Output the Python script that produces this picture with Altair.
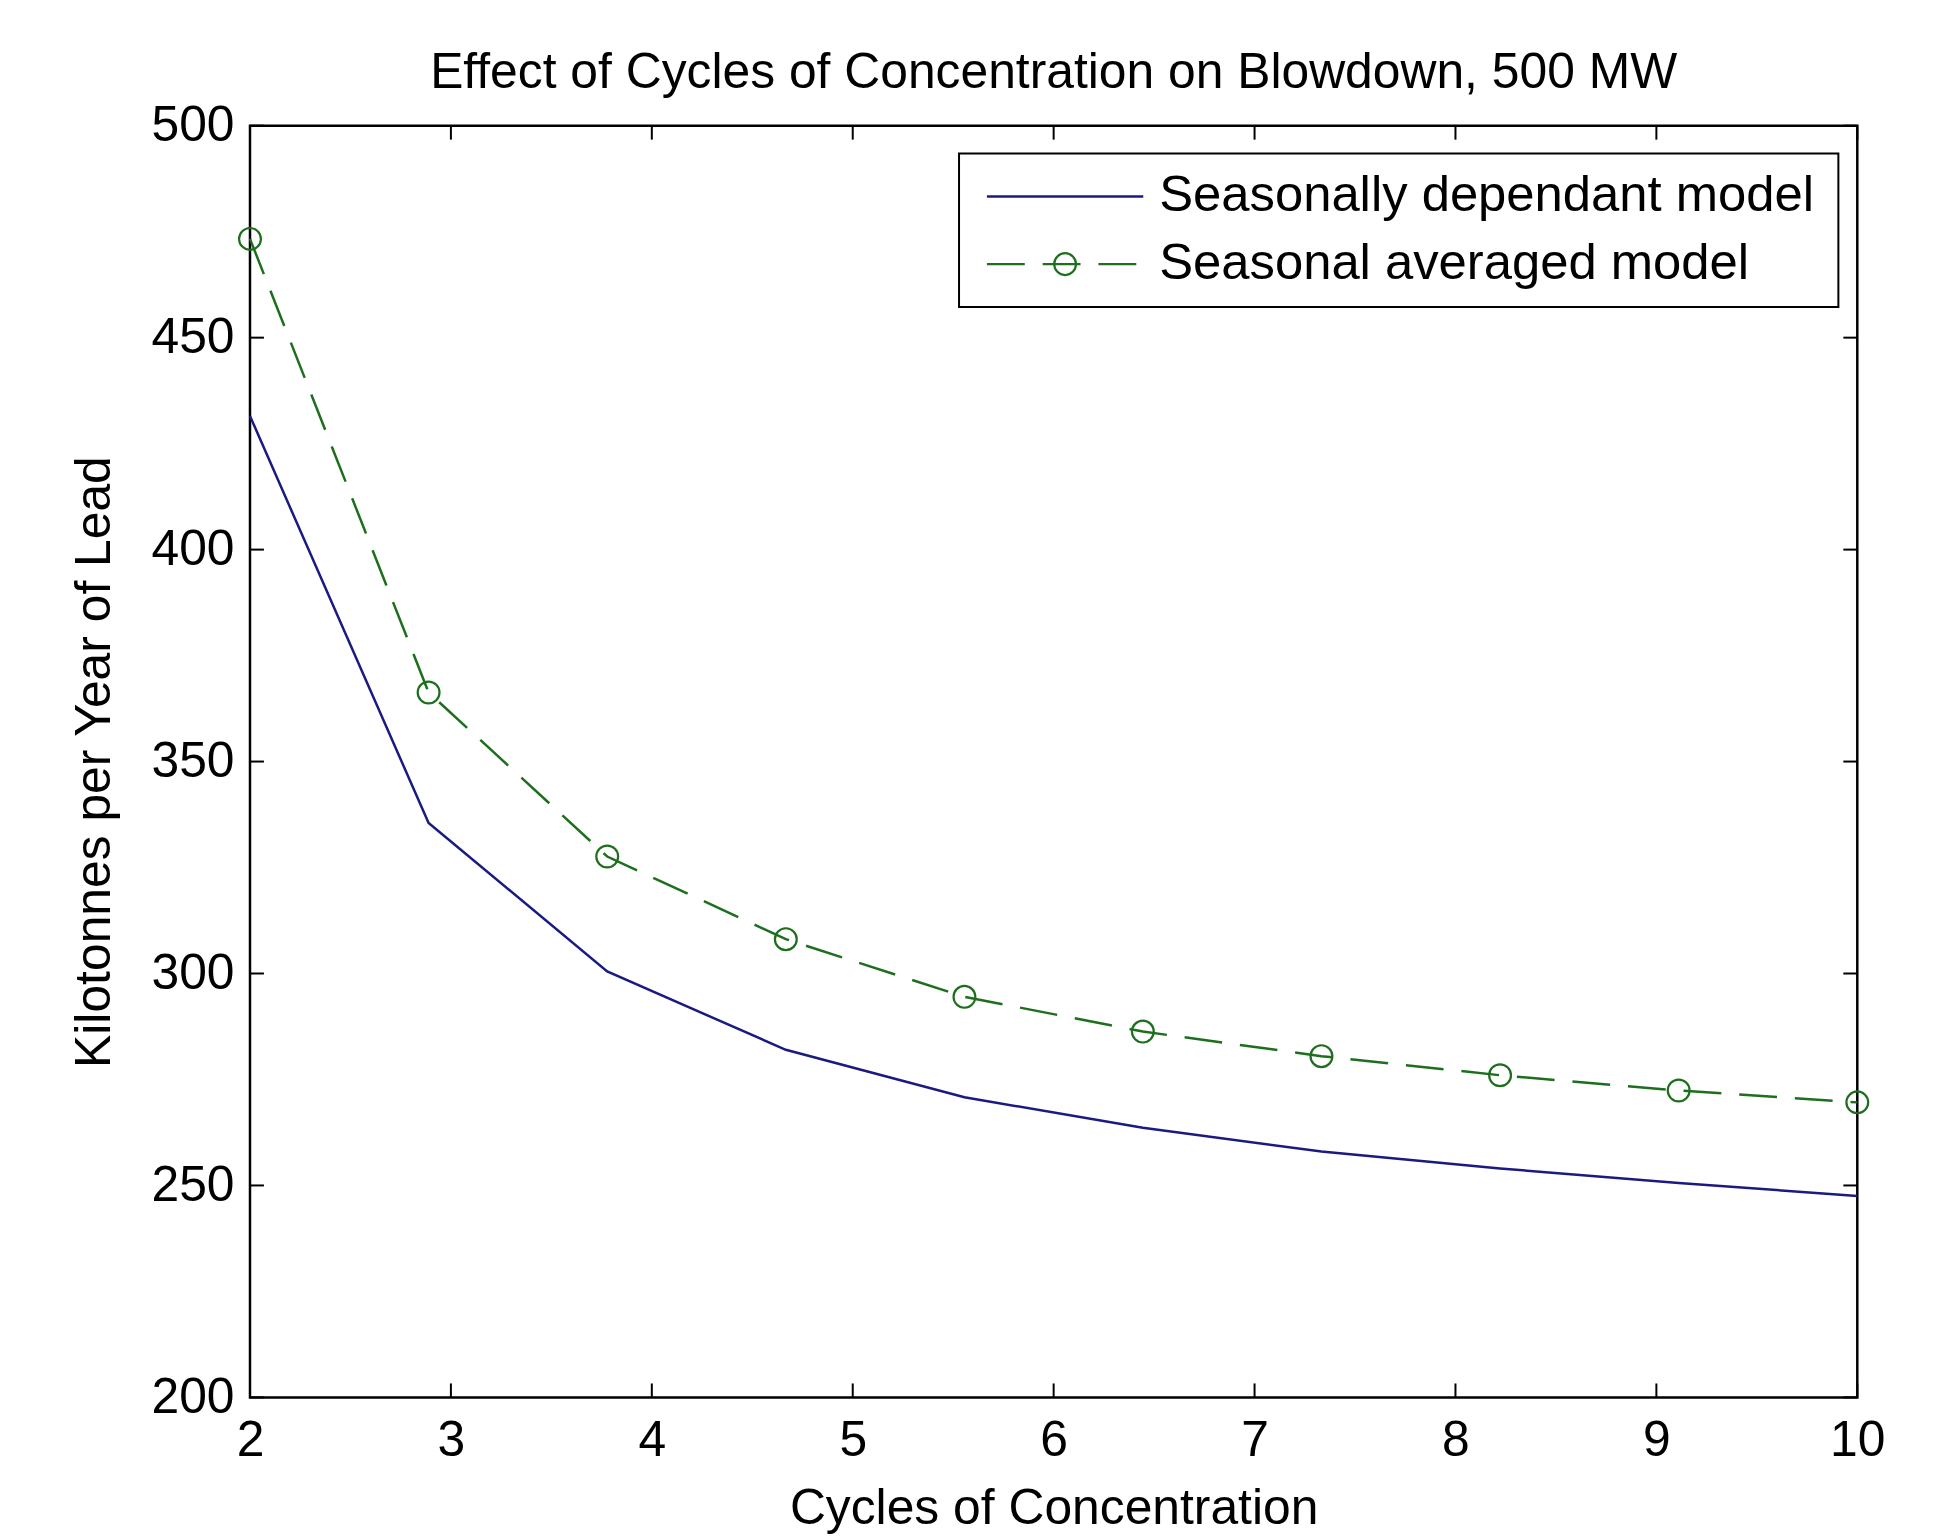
import altair as alt
import pandas as pd

# ---- data ----
cycles = [2.0, 2.889, 3.778, 4.667, 5.556, 6.444, 7.333, 8.222, 9.111, 10.0]
seasonally_dependant = [431.5, 335.5, 300.5, 282.0, 270.8, 263.6, 258.0, 254.0, 250.6, 247.5]
seasonal_averaged = [473.3, 366.3, 327.6, 308.1, 294.5, 286.3, 280.5, 276.0, 272.4, 269.6]
series_names = ["Seasonally dependant model", "Seasonal averaged model"]
x_ticks = [2, 3, 4, 5, 6, 7, 8, 9, 10]
y_ticks = [200, 250, 300, 350, 400, 450, 500]
title_text = "Effect of Cycles of Concentration on Blowdown, 500 MW"
x_title = "Cycles of Concentration"
y_title = "Kilotonnes per Year of Lead"

# ---- style ----
W, H = 1614, 1277
FONT = "Liberation Sans"
BLUE = "#1a1a80"
GREEN = "#1d6e1d"
DASH = [38, 18]
TICK = 14
LW = 2.5

df_blue = pd.DataFrame({"x": cycles, "y": seasonally_dependant, "series": series_names[0]})
df_green = pd.DataFrame({"x": cycles, "y": seasonal_averaged, "series": series_names[1]})
df_xt = pd.DataFrame({"x": x_ticks})
df_yt = pd.DataFrame({"y": y_ticks})
df_leg1 = pd.DataFrame({"label": [series_names[0]]})
df_leg2 = pd.DataFrame({"label": [series_names[1]]})

xscale = alt.Scale(domain=[2, 10], nice=False, zero=False)
yscale = alt.Scale(domain=[200, 500], nice=False, zero=False)

xaxis = alt.Axis(values=x_ticks, title=x_title, ticks=False, domain=False, grid=False,
                 labelPadding=18, titlePadding=19, format="d", labelFlush=False)
yaxis = alt.Axis(values=y_ticks, title=y_title, ticks=False, domain=False, grid=False,
                 labelPadding=16, titlePadding=32, format="d", labelFlush=False)

X = alt.X("x:Q", scale=xscale, axis=xaxis)
Y = alt.Y("y:Q", scale=yscale, axis=yaxis)

blue_line = alt.Chart(df_blue).mark_line(color=BLUE, strokeWidth=LW).encode(x=X, y=Y)
green_line = alt.Chart(df_green).mark_line(color=GREEN, strokeWidth=LW, strokeDash=DASH).encode(x=X, y=Y)
green_pts = alt.Chart(df_green).mark_point(shape="circle", filled=False, color=GREEN,
                                           size=480, strokeWidth=2.2, opacity=1).encode(x=X, y=Y)

# inward ticks on all four sides
xt_bottom = alt.Chart(df_xt).mark_rule(color="black", strokeWidth=2).encode(
    x=X, y=alt.value(H), y2=alt.value(H - TICK))
xt_top = alt.Chart(df_xt).mark_rule(color="black", strokeWidth=2).encode(
    x=X, y=alt.value(0), y2=alt.value(TICK))
yt_left = alt.Chart(df_yt).mark_rule(color="black", strokeWidth=2).encode(
    y=Y, x=alt.value(0), x2=alt.value(TICK))
yt_right = alt.Chart(df_yt).mark_rule(color="black", strokeWidth=2).encode(
    y=Y, x=alt.value(W - TICK), x2=alt.value(W))

# legend box
LX0, LX1, LY0, LY1 = 712, 1595, 28, 182
R1, R2 = 71, 139
SX0, SX1, TX = 740, 897, 913
leg_box = alt.Chart(df_leg1).mark_rect(fill="white", stroke="black", strokeWidth=2).encode(
    x=alt.value(LX0), x2=alt.value(LX1), y=alt.value(LY0), y2=alt.value(LY1))
leg_line1 = alt.Chart(df_leg1).mark_rule(color=BLUE, strokeWidth=LW).encode(
    x=alt.value(SX0), x2=alt.value(SX1), y=alt.value(R1))
leg_line2 = alt.Chart(df_leg2).mark_rule(color=GREEN, strokeWidth=LW, strokeDash=DASH).encode(
    x=alt.value(SX0), x2=alt.value(SX1), y=alt.value(R2))
leg_pt2 = alt.Chart(df_leg2).mark_point(shape="circle", filled=False, color=GREEN,
                                        size=480, strokeWidth=2.2, opacity=1).encode(
    x=alt.value((SX0 + SX1) / 2), y=alt.value(R2))
leg_txt1 = alt.Chart(df_leg1).mark_text(align="left", baseline="middle", font=FONT,
                                        fontSize=51, color="black").encode(
    x=alt.value(TX), y=alt.value(R1), text="label:N")
leg_txt2 = alt.Chart(df_leg2).mark_text(align="left", baseline="middle", font=FONT,
                                        fontSize=51, color="black").encode(
    x=alt.value(TX), y=alt.value(R2), text="label:N")

chart = alt.layer(
    blue_line, green_line, green_pts,
    xt_bottom, xt_top, yt_left, yt_right,
    leg_box, leg_line1, leg_line2, leg_pt2, leg_txt1, leg_txt2,
).properties(
    width=W, height=H,
    title=alt.TitleParams(title_text, font=FONT, fontSize=50, fontWeight="normal",
                          color="black", offset=3, anchor="middle"),
    padding={"left": 243, "top": 115, "right": 71, "bottom": 140},
    autosize="none",
    background="white",
).configure_view(
    stroke="black", strokeWidth=2.5
).configure_axis(
    labelFont=FONT, labelFontSize=50, labelColor="black",
    titleFont=FONT, titleFontSize=50, titleFontWeight="normal", titleColor="black",
)

chart.save("out.html", embed_options={"renderer": "svg", "actions": False})
